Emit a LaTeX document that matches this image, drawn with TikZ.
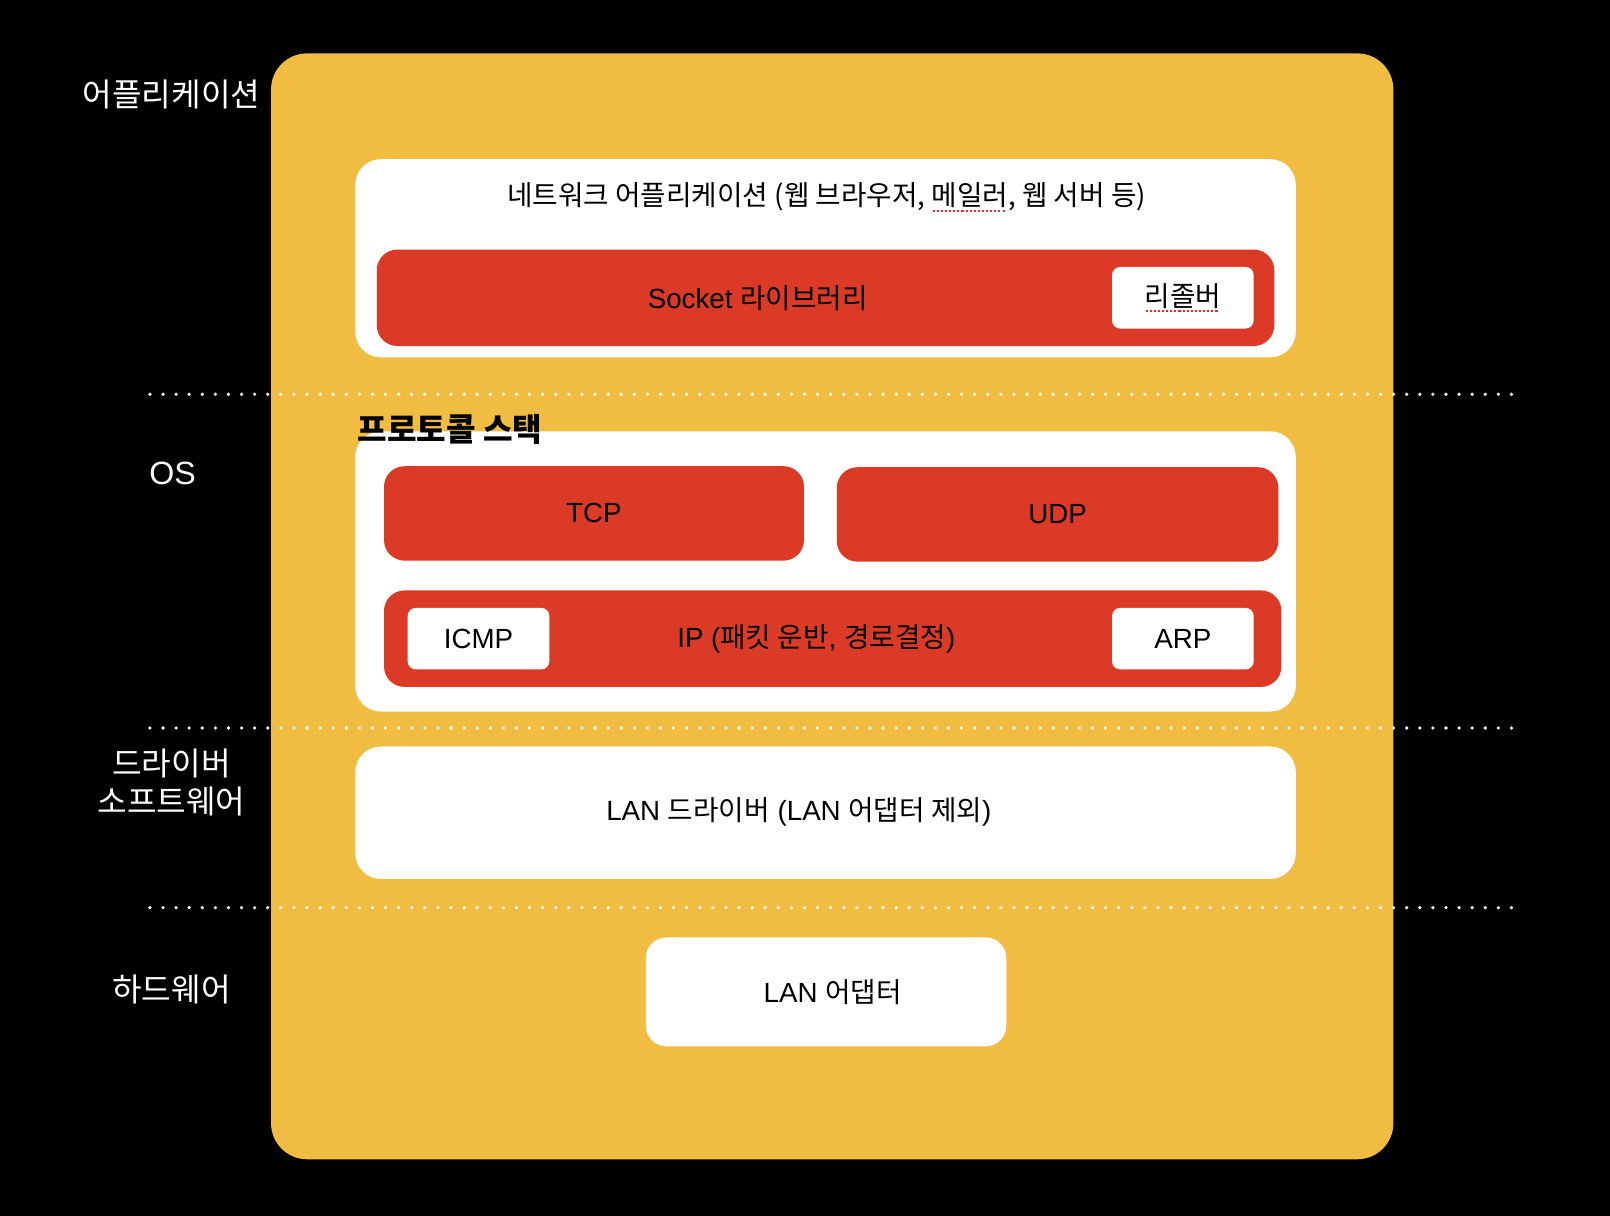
\documentclass[tikz,border=0pt]{standalone}
\usepackage{fontspec}
\setmainfont{Liberation Sans}[Scale=1.08]
\newfontfamily\kr{Noto Sans CJK KR}[Scale=1.08]
\definecolor{layergold}{RGB}{241, 188, 66}
\definecolor{stackred}{RGB}{219, 59, 38}
\definecolor{spellred}{RGB}{230, 40, 40}
\usetikzlibrary{positioning}

% dotted spell-check mark under a word
\newsavebox\spellbox
\newcommand\spellmark[1]{\sbox\spellbox{#1}\rlap{\color{spellred}\raisebox{-6pt}{\leaders\hbox to 4pt{\hss\rule{2pt}{2pt}\hss}\hskip\wd\spellbox}}\usebox\spellbox}

\tikzset{
    panel/.style={fill=white, rounded corners=25pt, inner sep=0pt, font=\fontsize{25}{30}\selectfont},
    redbar/.style={fill=stackred, rounded corners=20pt, inner sep=0pt, font=\fontsize{25}{30}\selectfont},
    chip/.style={fill=white, rounded corners=8pt, inner sep=0pt, minimum width=138pt, minimum height=60pt, font=\fontsize{25}{30}\selectfont},
    boxtext/.style={inner sep=0pt, font=\fontsize{25}{30}\selectfont},
    layerlabel/.style={text=white, align=center, font=\kr\fontsize{29}{37}\selectfont},
    sepline/.style={white, line width=3.5pt, line cap=round, dash pattern=on 0pt off 12.75pt},
}

\begin{document}
\begin{tikzpicture}[x=1pt,y=-1pt]
    \fill[black] (0,0) rectangle (1568,1184);
    \useasboundingbox (0,0) rectangle (1568,1184);

    % layer labels
    \node[layerlabel] (applabel) at (167,92) {어플리케이션};
    \node[layerlabel] (oslabel) at (168,461) {{\rmfamily OS}};
    \node[layerlabel] (drvlabel) at (167,762) {드라이버\\소프트웨어};
    \node[layerlabel] (hwlabel) at (167,964) {하드웨어};

    \node[fill=layergold, rounded corners=35pt, inner sep=0pt, minimum width=1093pt, minimum height=1077pt] (host) at (810.5,590.5) {};

    % separators
    \coordinate (sepA) at (146,384);
    \coordinate (sepB) at (146,709);
    \coordinate (sepC) at (146,884);
    \draw[sepline] (sepA) -- ++(1327,0);
    \draw[sepline] (sepB) -- ++(1327,0);
    \draw[sepline] (sepC) -- ++(1327,0);

    % application
    \node[panel, minimum width=916pt, minimum height=193pt] (appbox) at (804,251.5) {};
    \node[boxtext] (apptext) at (805,192) {\kr 네트워크 어플리케이션 (웹 브라우저, \spellmark{메일러}, 웹 서버 등)};
    \node[redbar, minimum width=874pt, minimum height=94pt] (socket) at (804,290) {};
    \node[boxtext] (sockettext) at (738,290) {Socket {\kr 라이브러리}};
    \node[chip] (resolver) at (1152,290) {\kr\spellmark{리졸버}};

    % protocol stack
    \node[panel, minimum width=916pt, minimum height=273pt] (stack) at (804,556.5) {};
    \node[anchor=west, inner sep=0pt, font=\kr\bfseries\fontsize{29}{34}\selectfont] (stacktitle) at (348,418) {프로토콜 스택};
    \node[redbar, minimum width=409pt, minimum height=92pt] (tcp) at (578.5,500) {TCP};
    \node[redbar, minimum width=430pt, minimum height=92pt] (udp) at (1030,501) {UDP};
    \node[redbar, minimum width=874pt, minimum height=94pt] (ip) at (811,622) {};
    \node[boxtext] (iptext) at (795,622) {IP ({\kr 패킷 운반}, {\kr 경로결정})};
    \node[chip] (icmp) at (466,622) {ICMP};
    \node[chip] (arp) at (1152,622) {ARP};

    % driver and hardware
    \node[panel, minimum width=916pt, minimum height=129pt] (driver) at (804,791.5) {};
    \node[boxtext] (drivertext) at (778,791) {LAN {\kr 드라이버} (LAN {\kr 어댑터 제외})};
    \node[panel, rounded corners=20pt, minimum width=351pt, minimum height=106pt] (adapter) at (804.5,966) {};
    \node[boxtext] (adaptertext) at (811,966) {LAN {\kr 어댑터}};
\end{tikzpicture}
\end{document}
